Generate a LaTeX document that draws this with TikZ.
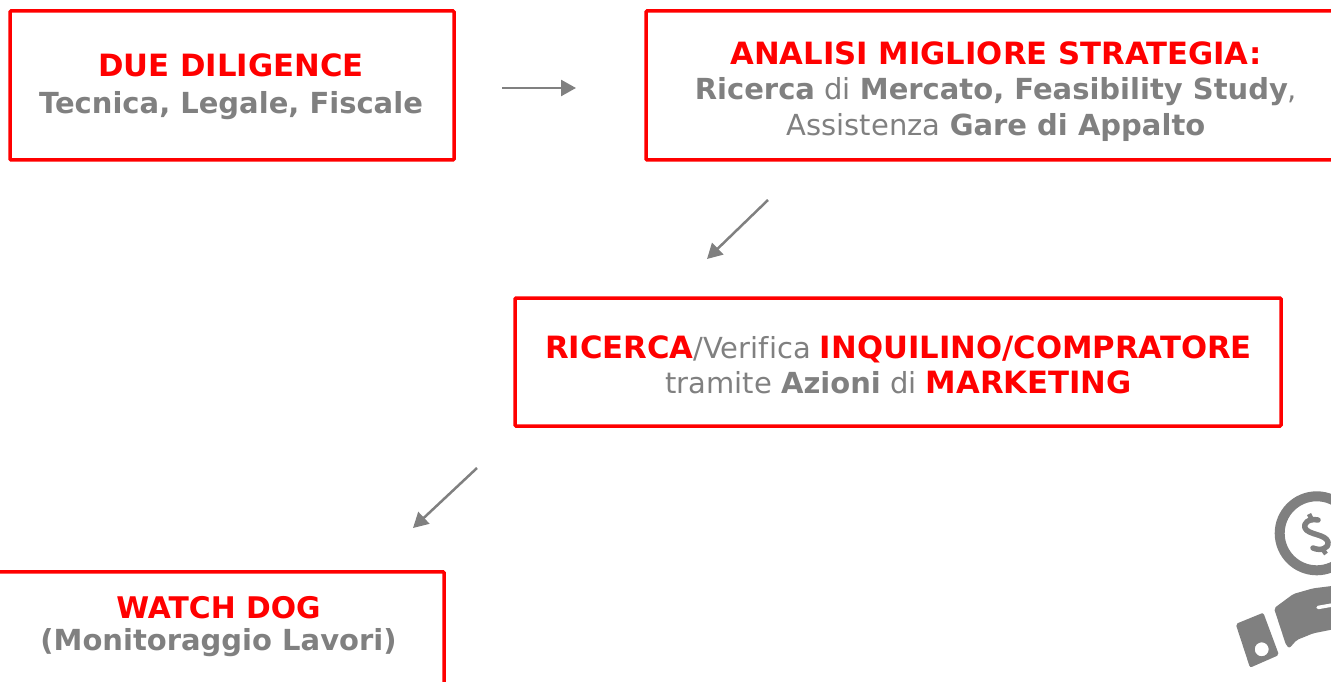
\documentclass[tikz,border=0pt]{standalone}
\usepackage{fontspec}
\setmainfont{DejaVu Sans}[Ligatures=NoCommon]
\usepackage{tikz}
\usetikzlibrary{arrows.meta}
\definecolor{boxred}{HTML}{FF0000}
\definecolor{txtgray}{HTML}{808080}
\newcommand\rd[1]{\textcolor{boxred}{\fontsize{30.7}{35.5}\selectfont\textbf{#1}}}
\newcommand\gb[1]{\textbf{#1}}
\tikzset{
  redbox/.style={draw=boxred, line width=3.5pt, rounded corners=1pt, inner sep=0pt},
  boxtxt/.style={text=txtgray, align=center, inner sep=0pt, font=\fontsize{29}{35.5}\selectfont},
  flowarrow/.style={draw=txtgray, line width=2.5pt,
      -{Triangle[length=15pt,width=16pt]}},
}

\begin{document}
\begin{tikzpicture}[x=1pt,y=-1pt]
      \useasboundingbox (0,0) rectangle (1331,682);
      \clip (0,0) rectangle (1331,682);

      \node [redbox, minimum width=444pt, minimum height=149pt] (duebox) at (232,85.5) {};
      \node [boxtxt, font=\fontsize{29}{37}\selectfont] (duetxt) at (231,86.5)
      {\rd{DUE DILIGENCE}\\\gb{Tecnica, Legale, Fiscale}};

      \node [redbox, minimum width=700pt, minimum height=149pt] (analisibox) at (996,85.5) {};
      \node [boxtxt] (analisitxt) at (996,91.5)
      {\rd{ANALISI MIGLIORE STRATEGIA:}\\\gb{Ricerca} di \gb{Mercato, Feasibility Study},\\Assistenza \gb{Gare di Appalto}};

      \node [redbox, minimum width=766pt, minimum height=128pt] (ricercabox) at (898,362) {};
      \node [boxtxt] (ricercatxt) at (898.5,365)
      {\rd{RICERCA}/Verifica \rd{INQUILINO/COMPRATORE}\\tramite \gb{Azioni} di \rd{MARKETING}};

      \node [redbox, minimum width=450pt, minimum height=130pt, anchor=north] (watchbox) at (219,570) {};
      \node [boxtxt, font=\fontsize{29}{32}\selectfont] (watchtxt) at (218.5,627)
      {\textcolor{boxred}{\fontsize{29.8}{32}\selectfont\textbf{WATCH DOG}}\\\gb{(Monitoraggio Lavori)}};

      \coordinate (startA) at (502,88);
      \coordinate (endA) at (576,88);
      \coordinate (startB) at (768,200);
      \coordinate (endB) at (707,259);
      \coordinate (startC) at (477,468);
      \coordinate (endC) at (413,528);
      \foreach \Arrow in {A,B,C}{
          \draw [flowarrow] (start\Arrow) -- (end\Arrow);
        }

      % coin and hand
      \fill [txtgray, even odd rule] (1316.7,533.3) circle (42) circle (32);
      \draw [txtgray, line width=5.5pt, line cap=round, line join=round]
      (1318,520) .. controls (1308,518) and (1303,524) .. (1305,528)
      .. controls (1308,535) and (1326,534) .. (1328,542)
      .. controls (1329,549) and (1320,551) .. (1313,548);
      \draw [txtgray, line width=4.5pt] (1309,514) -- (1312,520);
      \draw [txtgray, line width=4.5pt] (1323,550) -- (1326,554);
      \fill [txtgray, rounded corners=2pt, even odd rule]
      (1235.7,624) -- (1263.3,612.7) -- (1279,655) -- (1250,667.7) -- cycle
      (1261.7,649.3) circle (7);
      \fill [txtgray, rounded corners=2pt]
      (1274,608.3) -- (1293.3,594) -- (1313.3,588.3) -- (1340,585) -- (1340,628)
      -- (1313.3,633.3) -- (1296.7,640) -- (1289.3,648.3) -- (1286,645) -- cycle;
      \draw [white, line width=3.5pt, line cap=round] (1318,607.5) -- (1335,604.5);
    \end{tikzpicture}
\end{document}
